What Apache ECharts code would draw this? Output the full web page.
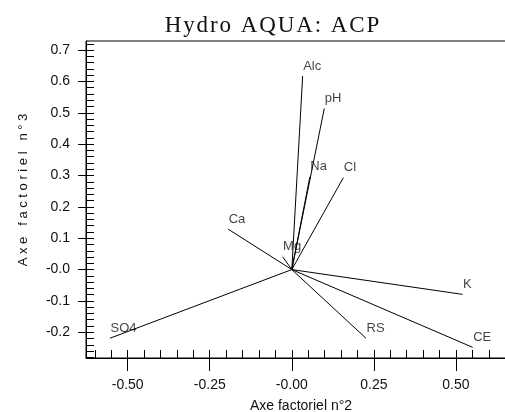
<!DOCTYPE html>
<html>
<head>
<meta charset="utf-8">
<script src="https://cdn.jsdelivr.net/npm/echarts@6/dist/echarts.min.js"></script>
<style>
  html, body { margin: 0; padding: 0; background: #fff; }
  #main { width: 505px; height: 412px; }
</style>
</head>
<body>
<div id="main"></div>
<script>
// variables of the ACP (factor 2 / factor 3 loadings)
const varNames = ["Alc", "pH", "Na", "Cl", "Ca", "Mg", "K", "SO4", "RS", "CE"];
const axe2 = [0.033, 0.099, 0.055, 0.157, -0.194, -0.028, 0.520, -0.554, 0.226, 0.551];
const axe3 = [0.617, 0.514, 0.296, 0.293, 0.129, 0.041, -0.079, -0.219, -0.219, -0.248];

// tick labels
const xTickValues = [-0.5, -0.25, 0, 0.25, 0.5];
const xTickLabels = ["-0.50", "-0.25", "-0.00", "0.25", "0.50"];
const yTickValues = [-0.2, -0.1, 0, 0.1, 0.2, 0.3, 0.4, 0.5, 0.6, 0.7];
const yTickLabels = ["-0.2", "-0.1", "-0.0", "0.1", "0.2", "0.3", "0.4", "0.5", "0.6", "0.7"];

const X_MIN = -0.627, X_MAX = 0.683;
const Y_MIN = -0.282, Y_MAX = 0.729;

// petites graduations
const xMinor = [];
for (let k = -12; k <= 13; k++) xMinor.push(+(k * 0.05).toFixed(2));
const yMinor = [];
for (let k = -14; k <= 36; k++) yMinor.push(+(k * 0.02).toFixed(2));

const font = "'Liberation Sans', Arial, sans-serif";

const chart = echarts.init(document.getElementById("main"));

const series = varNames.map((n, i) => ({
  name: n,
  type: "line",
  xAxisIndex: 0,
  yAxisIndex: 0,
  symbol: "none",
  silent: true,
  lineStyle: { color: "#000", width: 1 },
  data: [[0, 0], [axe2[i], axe3[i]]],
}));
series.push({
  type: "scatter",
  xAxisIndex: 0,
  yAxisIndex: 0,
  symbolSize: 1,
  silent: true,
  itemStyle: { color: "rgba(0,0,0,0)" },
  label: {
    show: true,
    formatter: "{b}",
    position: [1, -3],
    align: "left",
    verticalAlign: "bottom",
    color: "#111",
    fontSize: 13,
    fontFamily: font,
  },
  data: varNames.map((n, i) => ({ name: n, value: [axe2[i], axe3[i]] })),
});

const option = {
  animation: false,
  title: {
    text: "Hydro AQUA: ACP".split("").join("\u200A"),
    left: 272,
    textAlign: "center",
    top: 14,
    padding: 0,
    textStyle: {
      fontFamily: "'Liberation Serif', 'Times New Roman', serif",
      fontWeight: "normal",
      fontSize: 23,
      color: "#111",
    },
  },
  grid: {
    left: 86,
    top: 41,
    right: -11,
    bottom: 54,
    outerBoundsMode: "none",
    containLabel: false,
    show: true,
    borderColor: "#000",
    borderWidth: 1,
  },
  xAxis: [
    {
      type: "value",
      min: X_MIN,
      max: X_MAX,
      position: "bottom",
      name: "Axe factoriel n°2",
      nameLocation: "middle",
      nameGap: 41,
      nameTextStyle: { fontFamily: font, fontSize: 14, color: "#111" },
      axisLine: { show: true, onZero: false, lineStyle: { color: "#000", width: 1 } },
      axisTick: {
        show: true,
        inside: false,
        length: 13,
        customValues: xTickValues,
        lineStyle: { color: "#000" },
      },
      axisLabel: {
        show: true,
        margin: 20,
        customValues: xTickValues,
        fontFamily: font,
        fontSize: 14,
        color: "#111",
        formatter: (v) => xTickLabels[xTickValues.findIndex((t) => Math.abs(t - v) < 1e-6)],
      },
      splitLine: { show: false },
    },
    {
      type: "value",
      min: X_MIN,
      max: X_MAX,
      position: "bottom",
      axisLine: { show: false, onZero: false },
      axisTick: {
        show: true,
        inside: true,
        length: 8,
        customValues: xMinor,
        lineStyle: { color: "#000" },
      },
      axisLabel: { show: false },
      splitLine: { show: false },
    },
  ],
  yAxis: [
    {
      type: "value",
      min: Y_MIN,
      max: Y_MAX,
      position: "left",
      name: "A x e   f a c t o r i e l   n ° 3",
      nameLocation: "middle",
      nameGap: 56,
      nameTextStyle: { fontFamily: font, fontSize: 13, color: "#111", padding: [0, 0, 0, 19] },
      axisLine: { show: true, onZero: false, lineStyle: { color: "#000", width: 1 } },
      axisTick: {
        show: true,
        inside: false,
        length: 8,
        customValues: yTickValues,
        lineStyle: { color: "#000" },
      },
      axisLabel: {
        show: true,
        margin: 16,
        customValues: yTickValues,
        fontFamily: font,
        fontSize: 14,
        color: "#111",
        formatter: (v) => yTickLabels[yTickValues.findIndex((t) => Math.abs(t - v) < 1e-6)],
      },
      splitLine: { show: false },
    },
    {
      type: "value",
      min: Y_MIN,
      max: Y_MAX,
      position: "left",
      axisLine: { show: false, onZero: false },
      axisTick: {
        show: true,
        inside: true,
        length: 8,
        customValues: yMinor,
        lineStyle: { color: "#000" },
      },
      axisLabel: { show: false },
      splitLine: { show: false },
    },
  ],
  series: series,
};

chart.setOption(option);
</script>
</body>
</html>
